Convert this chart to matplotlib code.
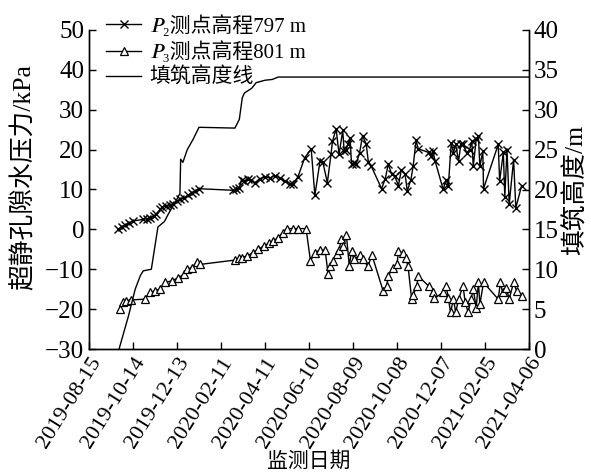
import numpy as np
import matplotlib
matplotlib.use('Agg')
import matplotlib.pyplot as plt
import matplotlib.dates as mdates

plt.rcParams['font.family'] = ['Liberation Serif', 'STIXGeneral', 'Noto Sans CJK SC']

# days counted from 2019-08-15 (first x tick)
start = np.datetime64('2019-08-15')

p2_day = [40, 45, 49, 54, 60, 74, 79, 83, 88, 92, 97, 100, 105, 110, 115, 120, 124, 129, 135, 140, 145, 150,
          197, 201, 205, 208, 212, 217, 221, 226, 233, 240, 247, 253, 260, 267, 274, 278, 285,
          294, 303, 308, 315, 319, 325, 330, 332, 337, 341, 346, 348, 350, 353, 356, 358, 361, 364, 369,
          373, 378, 381, 385,
          399, 404, 408, 413, 417, 422, 426, 431, 434, 439, 442, 446, 449, 463, 467, 469, 472, 483, 487,
          490, 494, 497, 500, 504, 507, 510, 515, 519, 522, 524, 528, 531, 533, 537, 538, 558, 560, 565,
          567, 570, 573, 579, 582, 590]
p2_kpa = [0, 0.7, 1.0, 1.5, 2.1, 2.5, 2.7, 2.9, 3.3, 3.8, 5.0, 5.7, 5.8, 6.0, 6.3, 7.1, 7.5, 7.9, 8.5, 9.2, 9.6, 10.2,
          9.8, 10.0, 10.4, 12.5, 12.1, 12.7, 12.4, 11.7, 12.7, 13.2, 12.9, 13.5, 12.9, 12.1, 11.5, 11.3, 13.2,
          17.9, 20.2, 8.5, 17.1, 16.8, 11.7, 18.8, 22.1, 25.2, 18.8, 24.8, 19.6, 20.0, 21.3, 22.9, 16.3, 16.7,
          16.3, 19.2, 23.5, 21.4, 16.8, 15.8,
          10.2, 12.7, 16.3, 13.8, 13.3, 11.0, 15.0, 13.9, 9.6, 12.5, 15.8, 22.3, 20.2, 19.3, 18.5, 19.6, 17.1,
          10.0, 12.5, 10.8, 21.7, 19.2, 21.3, 17.1, 21.3, 21.5, 19.2, 20.0, 22.1, 15.8, 22.7, 23.3, 15.8, 19.6,
          10.2, 21.3, 12.1, 19.3, 8.2, 20.0, 6.3, 17.5, 5.4, 11.0]

p3_day = [42, 46, 50, 57, 76, 83, 90, 97, 104, 113, 122, 129, 133, 140, 147, 151,
          199, 204, 208, 215, 224, 231, 238, 245, 251, 258, 264, 270, 278, 285, 296,
          302, 308, 315, 322, 326, 329, 333, 338, 341, 344, 347, 351, 355, 358, 361, 369, 374, 380, 386,
          401, 406, 408, 414, 420, 422, 428, 432, 435, 440, 442, 447, 449, 463, 469, 471,
          483, 487, 490, 493, 497, 500, 504, 510, 513, 517, 521, 524, 528, 531, 533, 538,
          558, 561, 564, 569, 573, 579, 583, 590]
p3_kpa = [-20.0, -18.3, -17.9, -17.7, -17.5, -15.8, -15.4, -15.0, -13.3, -12.9, -12.1, -11.3, -10.0, -9.6, -8.3, -8.8,
          -7.7, -7.3, -7.1, -6.7, -5.8, -5.0, -4.2, -3.5, -2.9, -2.1, -0.8, 0.2, 0.2, 0.2, 0.2,
          -7.9, -5.8, -5.2, -5.2, -11.1, -9.2, -7.9, -6.3, -5.2, -2.5, -4.2, -1.5, -9.2, -5.4, -7.5, -6.5,
          -7.5, -9.3, -6.5,
          -15.4, -14.2, -11.7, -9.6, -8.8, -5.4, -6.0, -7.3, -9.2, -17.5, -16.5, -14.2, -11.7, -14.2, -15.7, -17.3,
          -15.8, -14.2, -17.1, -20.8, -17.5, -20.8, -17.5, -14.2, -18.3, -20.8, -17.5, -15.0, -19.6, -13.3,
          -18.8, -13.3,
          -17.5, -13.3, -15.8, -14.6, -17.5, -13.3, -15.4, -16.7]

fill_day = [41, 54, 63, 70, 74, 85, 94, 103, 108, 120, 124, 125, 128, 134, 142, 150, 199, 205, 209, 212,
            222, 228, 240, 250, 258, 600]
fill_m = [0, 4.2, 7.5, 9.2, 9.8, 10.0, 15.3, 16.0, 16.9, 18.8, 19.5, 23.8, 23.4, 25.0, 26.3, 27.8, 27.7, 28.8,
          31.5, 32.1, 32.7, 33.4, 33.7, 33.8, 34.1, 34.1]

tick_dates = ['2019-08-15', '2019-10-14', '2019-12-13', '2020-02-11', '2020-04-11', '2020-06-10',
              '2020-08-09', '2020-10-08', '2020-12-07', '2021-02-05', '2021-04-06']


def to_dates(days):
    return start + np.array(days, dtype='timedelta64[D]')


fig = plt.figure(figsize=(5.91, 4.76), dpi=100)
ax = fig.add_axes([89 / 591, 1 - 349 / 476, 440 / 591, 319 / 476])
ax2 = ax.twinx()

l2, = ax.plot(to_dates(p2_day), p2_kpa, color='black', lw=1.0, marker='x', ms=6, mew=1.0,
              label='\U0001D443\u2082测点高程797 m')
l3, = ax.plot(to_dates(p3_day), p3_kpa, color='black', lw=1.0, marker='^', ms=6, mew=0.9,
              mfc='white', label='\U0001D443\u2083测点高程801 m')
lf, = ax2.plot(to_dates(fill_day), fill_m, color='black', lw=1.0, label='填筑高度线')

ax.set_ylim(-30, 50)
ax.set_yticks(range(-30, 51, 10))
ax2.set_ylim(0, 40)
ax2.set_yticks(range(0, 41, 5))

ticks = np.array(tick_dates, dtype='datetime64[D]')
ax.set_xlim(ticks[0], ticks[-1])
ax.set_xticks(ticks)
ax.xaxis.set_major_formatter(mdates.DateFormatter('%Y-%m-%d'))
ax.tick_params(axis='x', labelsize=16)
for lab in ax.get_xticklabels():
    lab.set_rotation(58)
    lab.set_ha('right')
    lab.set_rotation_mode('anchor')

for a in (ax, ax2):
    a.spines['top'].set_visible(False)
    a.tick_params(direction='in', length=5, width=1)
    a.tick_params(axis='y', labelsize=18)
    for s in a.spines.values():
        s.set_linewidth(1.0)

fig.text(309 / 591, 1 - 462 / 476, '监测日期', fontsize=15, ha='center', va='center')
ax.set_ylabel('超静孔隙水压力/kPa', fontsize=18.5)
ax.yaxis.set_label_coords(-0.122, 0.54)
ax2.set_ylabel('填筑高度/m', fontsize=18.5, labelpad=3)

fig.legend(handles=[l2, l3, lf], loc='upper left', bbox_to_anchor=(106 / 591, 1 - 15 / 476),
           frameon=False, fontsize=15, handlelength=1.7, handletextpad=0.4, labelspacing=0.22,
           borderpad=0, borderaxespad=0)

fig.savefig('out.png', dpi=100)
